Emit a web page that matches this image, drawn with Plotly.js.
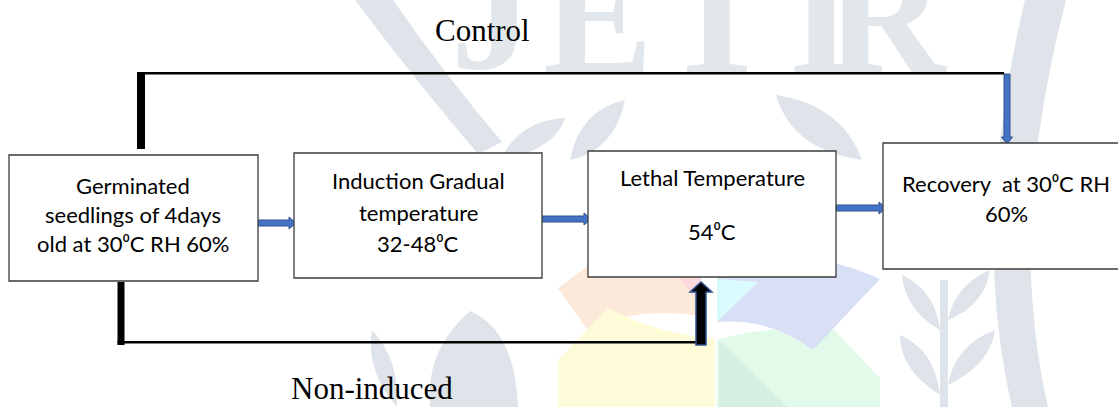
<!DOCTYPE html>
<html><head><meta charset="utf-8">
<script src="https://cdn.plot.ly/plotly-3.0.1.min.js"></script>
<style>html,body{margin:0;padding:0;background:#fff;}#chart{width:1118px;height:407px;}</style>
</head><body><div id="chart"></div>
<script>
// ---- content ----
const stepLabels = [
  ["Germinated", "seedlings of 4days", "old at 30\u2070C RH 60%"],
  ["Induction Gradual", "temperature", "32-48\u2070C"],
  ["Lethal Temperature", "54\u2070C"],
  ["Recovery\u00a0 at 30\u2070C RH", "60%"]
];
const branchLabels = ["Control", "Non-induced"];
const watermarkLetters = ["J", "E", "T", "I", "R"];

// ---- geometry (pixels) ----
const W = 1118, H = 407;
const boxGeom = [
  {x0: 9,   y0: 155, x1: 258,  y1: 281, cx: 133, ys: [185, 214, 243]},
  {x0: 294, y0: 153, x1: 542,  y1: 278, cx: 418, ys: [180, 212, 243]},
  {x0: 588, y0: 151, x1: 836,  y1: 277, cx: 712, ys: [178, 231]},
  {x0: 883, y0: 143, x1: 1135, y1: 269, cx: 1006, ys: [183, 213]}
];
const branchGeom = [{x: 482, y: 30}, {x: 372, y: 388}];
const letterGeom = [{x: 492, y: 12}, {x: 598, y: 16}, {x: 717, y: 16}, {x: 821, y: 16}, {x: 886, y: 16}];

const px = v => v / W, py = v => 1 - v / H;
const P = s => s.replace(/(-?\d+(?:\.\d+)?),(-?\d+(?:\.\d+)?)/g, (m, a, b) => px(+a) + ',' + py(+b));

const shapes = [];
function path(d, fill, line, lw, layer) {
  shapes.push({type: 'path', xref: 'paper', yref: 'paper', path: P(d), fillcolor: fill,
    line: {color: line || fill, width: lw === undefined ? 0 : lw}, layer: layer || 'above'});
}
function rect(x0, y0, x1, y1, fill, line, lw, layer) {
  shapes.push({type: 'rect', xref: 'paper', yref: 'paper', x0: px(x0), x1: px(x1), y0: py(y1), y1: py(y0),
    fillcolor: fill, line: {color: line || fill, width: lw === undefined ? 0 : lw}, layer: layer || 'above'});
}

// ---- watermark (faint) ----
const G = '#dee4e9';
path('M 355,0 L 393,0 Q 445,75 502,142 L 478,154 Q 415,80 355,0 Z', G, null, 0, 'below');
path('M 1025,0 L 1066,0 Q 1035,120 1030,230 Q 1030,330 1048,407 L 1012,407 Q 992,320 994,230 Q 998,110 1025,0 Z', G, null, 0, 'below');
path('M 570,160 Q 580,110 625,100 Q 615,150 570,160 Z', G, null, 0, 'below');
path('M 862,160 Q 792,150 776,95 Q 842,105 862,160 Z', G, null, 0, 'below');
path('M 500,160 Q 520,120 565,118 Q 555,150 500,160 Z', G, null, 0, 'below');
path('M 397,407 Q 365,370 372,330 Q 400,360 397,407 Z', G, null, 0, 'below');
path('M 430,407 Q 425,350 470,311 Q 515,330 518,407 Z', G, null, 0, 'below');
rect(940, 280, 948, 407, G, null, 0, 'below');
path('M 940,330 Q 905,310 902,275 Q 935,290 940,330 Z', G, null, 0, 'below');
path('M 940,395 Q 900,370 900,335 Q 935,350 940,395 Z', G, null, 0, 'below');
path('M 948,320 Q 985,305 990,270 Q 955,285 948,320 Z', G, null, 0, 'below');
path('M 948,385 Q 990,365 995,330 Q 955,345 948,385 Z', G, null, 0, 'below');
// pinwheel
path('M 701,316 L 701,250 Q 640,244 604,254 L 558,288 L 587,329 Q 640,306 701,316 Z', '#fde9da', null, 0, 'below');
path('M 701,252 L 701,305 L 668,265 Z', '#fcdadc', null, 0, 'below');
path('M 558,360 L 608,308 Q 660,335 715,338 L 715,407 L 558,407 Z', '#fefbd8', null, 0, 'below');
path('M 717,340 Q 760,326 833,329 L 880,378 L 880,407 L 717,407 Z', '#e2fae9', null, 0, 'below');
path('M 719,340 L 787,407 L 719,407 Z', '#d6efe3', null, 0, 'below');
path('M 717,322 L 717,272 Q 800,242 880,279 L 813,350 Q 770,318 717,322 Z', '#d9e0f6', null, 0, 'below');
path('M 717,279 L 758,282 L 717,322 Z', '#d9fbfd', null, 0, 'below');

// ---- connectors ----
rect(137, 72, 145, 149, '#000');              // control riser
rect(137, 72, 1004, 74.6, '#000');            // control line
rect(117.5, 282, 124.5, 345, '#000');         // non-induced riser
rect(117.5, 341, 697, 343.6, '#000');         // non-induced line

const BF = '#4472C4', BL = '#2F528F';
function hArrow(x0, x1, y) {
  const s = 3, h = 6, L = 7;
  path(`M ${x0},${y - s} L ${x1 - L},${y - s} L ${x1 - L},${y - h} L ${x1},${y} L ${x1 - L},${y + h} L ${x1 - L},${y + s} L ${x0},${y + s} Z`, BF, BL, 1);
}
hArrow(258, 296, 223);
hArrow(542, 591, 219);
hArrow(836, 886, 208);
(function () {
  const x = 1007, y0 = 74, y1 = 144, s = 3, h = 5.5, L = 7;
  path(`M ${x - s},${y0} L ${x + s},${y0} L ${x + s},${y1 - L} L ${x + h},${y1 - L} L ${x},${y1} L ${x - h},${y1 - L} L ${x - s},${y1 - L} Z`, BF, BL, 1);
})();
(function () {
  const x = 701, y0 = 345, y1 = 282, s = 5, h = 11, L = 10;
  path(`M ${x - s},${y0} L ${x + s},${y0} L ${x + s},${y1 + L} L ${x + h},${y1 + L} L ${x},${y1} L ${x - h},${y1 + L} L ${x - s},${y1 + L} Z`, '#000', BL, 1.5);
})();

// ---- boxes ----
boxGeom.forEach(b => rect(b.x0, b.y0, b.x1, b.y1, '#ffffff', '#3b3b3b', 1.3));

// ---- text ----
const annotations = [];
watermarkLetters.forEach((t, i) => annotations.push({
  text: '<b>' + t + '</b>', xref: 'paper', yref: 'paper', x: px(letterGeom[i].x), y: py(letterGeom[i].y),
  xanchor: 'center', yanchor: 'middle', showarrow: false,
  font: {family: 'Liberation Serif, serif', size: 165, color: '#e1e7eb'}
}));
stepLabels.forEach((lines, i) => {
  const b = boxGeom[i];
  lines.forEach((t, j) => annotations.push({
    text: t, xref: 'paper', yref: 'paper', x: px(b.cx), y: py(b.ys[j]),
    xanchor: 'center', yanchor: 'middle', showarrow: false,
    font: {family: 'Lato, Carlito, sans-serif', size: 22, color: '#000'}
  }));
});
branchLabels.forEach((t, i) => annotations.push({
  text: t, xref: 'paper', yref: 'paper', x: px(branchGeom[i].x), y: py(branchGeom[i].y),
  xanchor: 'center', yanchor: 'middle', showarrow: false,
  font: {family: 'Liberation Serif, Times New Roman, serif', size: 31, color: '#000'}
}));

const layout = {
  width: W, height: H, margin: {l: 0, r: 0, t: 0, b: 0},
  paper_bgcolor: '#ffffff', plot_bgcolor: '#ffffff',
  xaxis: {visible: false, range: [0, 1], fixedrange: true},
  yaxis: {visible: false, range: [0, 1], fixedrange: true},
  showlegend: false, shapes: shapes, annotations: annotations
};
Plotly.newPlot('chart', [], layout, {staticPlot: true, displayModeBar: false});
</script></body></html>
